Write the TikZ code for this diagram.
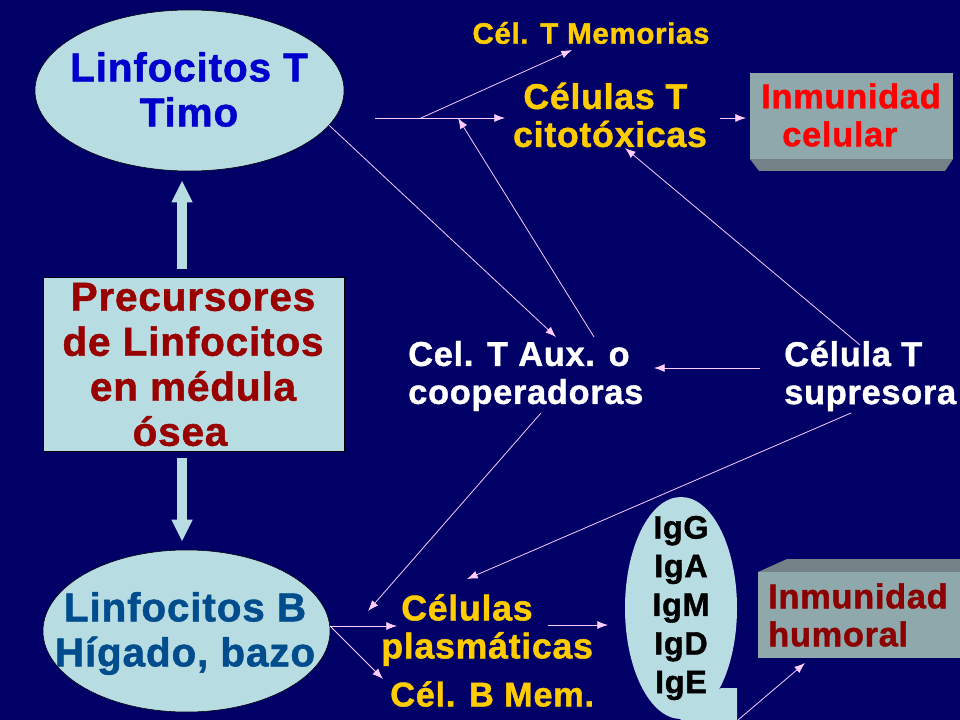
\documentclass[tikz,border=0pt]{standalone}
\usepackage{fontspec}
\setmainfont[LetterSpace=2,BoldFeatures={FakeBold=1.2}]{Liberation Sans}
\usetikzlibrary{shapes.geometric,arrows.meta}
\definecolor{bgnavy}{HTML}{000066}
\definecolor{paleblue}{HTML}{B7DDE3}
\definecolor{boxfront}{HTML}{8FA8AB}
\definecolor{boxside}{HTML}{728287}
\definecolor{linkpink}{HTML}{FFCCFF}
\definecolor{goldtext}{HTML}{FFCC00}
\definecolor{deepred}{HTML}{990000}
\definecolor{darkred}{HTML}{8B0000}
\definecolor{titleblue}{HTML}{0000CC}
\definecolor{steelblue}{HTML}{004C8C}
\tikzset{
  x=0.75pt,y=-0.75pt,
  blob/.style={ellipse,fill=paleblue,draw=black,line width=0.4pt,inner sep=0pt},
  bigtxt/.style={font=\fontsize{30.4}{33.75}\selectfont\bfseries,align=center,inner sep=0pt},
  midtxt/.style={font=\fontsize{25.8}{28.5}\selectfont\bfseries,align=left,inner sep=0pt},
  widetxt/.style={font=\fontsize{26.8}{28.5}\selectfont\bfseries,align=left,inner sep=0pt},
  smalltxt/.style={font=\fontsize{22.2}{26}\selectfont\bfseries,inner sep=0pt},
  link/.style={draw=linkpink,line width=0.6pt,-{Latex[length=8pt,width=6pt]}},
  fatarrow/.style={draw=paleblue,line width=7.5pt,-{Triangle[length=16pt,width=16pt,line width=0pt,fill=paleblue]},shorten >=0pt}
}
\begin{document}
\begin{tikzpicture}
\useasboundingbox (0,0) rectangle (960,720);
\fill[bgnavy] (0,0) rectangle (960,720);
% boxes
\fill[boxside] (750,159) -- (759,171) -- (945,171) -- (953,159) -- cycle;
\node[fill=boxfront,draw=none,minimum width=152.25pt,minimum height=64.5pt,inner sep=0pt] (cellbox) at (851.5,116) {};
\fill[boxside] (758,572) -- (787,559) -- (960,559) -- (960,572) -- cycle;
\node[fill=boxfront,draw=none,minimum width=151.5pt,minimum height=64.5pt,inner sep=0pt] (humbox) at (859,615) {};
% ellipses
\node[blob,minimum width=231.75pt,minimum height=120.75pt] (lt) at (189.5,90.5) {};
\node[blob,minimum width=215.25pt,minimum height=121.5pt] (lb) at (186.5,631) {};
\node[blob,draw=none,minimum width=84pt,minimum height=166.5pt] (ig) at (681,608) {};
\fill[paleblue] (721,688) -- (737,688) -- (737,720) -- (680,720) -- cycle;
% precursor box
\node[fill=paleblue,draw=black,line width=0.4pt,minimum width=225.75pt,minimum height=130.5pt,inner sep=0pt] (prec) at (193.5,364) {};
% texts
\node[bigtxt,text=titleblue] (ltx) at (189,89.5) {Linfocitos T\\Timo};
\node[bigtxt,text=steelblue] (lbx) at (185,633.5) {Linfocitos B\\Hígado, bazo};
\node[bigtxt,text=deepred] (precx) at (193,364.5) {Precursores\\de Linfocitos\\en médula\hspace*{10.5pt}\\ósea\hspace*{19.5pt}};
\node[smalltxt,text=goldtext] (mem) at (591,33) {Cél. T Memorias};
\node[widetxt,text=goldtext,align=center] (cito) at (610,115) {Células T\hspace*{7pt}\\citotóxicas};
\node[midtxt,text=red,anchor=west] (celtx) at (761,115) {Inmunidad\\\hspace*{15.75pt}celular};
\node[midtxt,text=white,anchor=west] (aux) at (408,376) {Cel. T Aux. o\\cooperadoras};
\node[midtxt,text=white,anchor=west] (sup) at (784,376) {Célula T\\supresora};
\node[widetxt,text=goldtext,anchor=west] (plas) at (381,630) {\hspace*{15pt}Células\\plasmáticas};
\node[midtxt,text=goldtext,anchor=west] (bmem) at (390,694) {Cél. B Mem.};
\node[midtxt,text=darkred,anchor=west] (humtx) at (768,615) {Inmunidad\\humoral};
\node[text=black,align=center,inner sep=0pt,font=\fontsize{24.3}{29}\selectfont\bfseries] (igx) at (681,608) {IgG\\IgA\\IgM\\IgD\\IgE};
% free ends
\coordinate (a1) at (375,118);
\coordinate (a2) at (505,118);
\coordinate (a3) at (421,118);
\coordinate (a4) at (572,50);
\coordinate (a5) at (556,337);
\coordinate (a6) at (594,337);
\coordinate (a7) at (458,118);
\coordinate (a8) at (860,345);
\coordinate (a9) at (625,148);
\coordinate (a10) at (720,118);
\coordinate (a11) at (746,118);
\coordinate (a12) at (760,368);
\coordinate (a13) at (654,368);
\coordinate (a14) at (541,413);
\coordinate (a15) at (368,611);
\coordinate (a16) at (851,413);
\coordinate (a17) at (467,579);
\coordinate (a18) at (397,626);
\coordinate (a19) at (383,679);
\coordinate (a20) at (548,625);
\coordinate (a21) at (608,625);
\coordinate (a22) at (738,720);
\coordinate (a23) at (805,663);
\coordinate (b1) at (330,626);
\coordinate (up0) at (182,269);
\coordinate (up1) at (182,181);
\coordinate (dn0) at (182,458);
\coordinate (dn1) at (182,541);
% connectors
\draw[link] (a1) -- (a2);
\draw[link] (a3) -- (a4);
\draw[link] (lt.-14.6) -- (a5);
\draw[link] (a6) -- (a7);
\draw[link] (a8) -- (a9);
\draw[link] (a10) -- (a11);
\draw[link] (a12) -- (a13);
\draw[link] (a14) -- (a15);
\draw[link] (a16) -- (a17);
\draw[link] (b1) -- (a18);
\draw[link] (b1) -- (a19);
\draw[link] (a20) -- (a21);
\draw[link] (a22) -- (a23);
\draw[fatarrow] (up0) -- (up1);
\draw[fatarrow] (dn0) -- (dn1);
\end{tikzpicture}
\end{document}
